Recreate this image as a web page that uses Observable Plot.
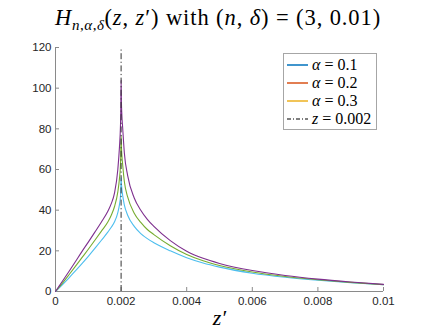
<!DOCTYPE html>
<html><head><meta charset="utf-8">
<script src="https://cdn.jsdelivr.net/npm/d3@7"></script>
<script src="https://cdn.jsdelivr.net/npm/@observablehq/plot@0.6"></script>
<style>
body{margin:0;background:#fff;}
#wrap{position:relative;width:423px;height:336px;overflow:hidden;background:#fff;}
#chart{position:absolute;left:0;top:0;}
#title{position:absolute;top:5px;left:218px;transform:translateX(-50%);white-space:nowrap;font-family:"Liberation Serif",serif;font-size:22.5px;letter-spacing:0.9px;color:#000;}
#title sub{font-size:15px;vertical-align:-5px;line-height:0;letter-spacing:0.5px}
#legend{position:absolute;left:283px;top:53px;width:94px;height:77px;border:1px solid #a6a6a6;background:#fff;box-sizing:border-box;font-family:"Liberation Serif",serif;font-size:16px;color:#000;}
.row{position:absolute;left:3px;height:18px;display:flex;align-items:center;white-space:nowrap;}
.row svg{margin-right:4px;}
</style>
</head><body>
<div id="wrap">
  <div id="chart"></div>
  <div id="title"><i>H</i><sub><i>n</i>,<i>α</i>,<i>δ</i></sub>(<i>z</i>, <i>z</i>′) with (<i>n</i>, <i>δ</i>) = (3, 0.01)</div>
  <div id="legend"></div>
</div>
<script>
// z' sample positions
const zPrime = [0, 0.0002, 0.0004, 0.0006, 0.0008, 0.001, 0.0012, 0.0014, 0.0016, 0.0017, 0.0018, 0.0019, 0.00195, 0.00198, 0.00199,
  0.002,
  0.00201, 0.00202, 0.00205, 0.0021, 0.0022, 0.0024, 0.0026, 0.0028, 0.003, 0.0035, 0.004, 0.0045, 0.005, 0.006, 0.007, 0.008, 0.009, 0.01];
// H values
const hAlpha01 = [0, 3.2, 6.5, 10, 13.6, 17.3, 21.2, 25.2, 29.3, 31.6, 34.3, 38.8, 42.7, 46.5, 49.5,
  56,
  53, 51, 47, 42.5, 37.5, 32, 28.5, 26, 24, 20, 16.6, 14, 12, 9, 7, 5.5, 4.3, 3.3];
const hAlpha02 = [0, 3.9, 8, 12.2, 16.5, 20.8, 25.2, 29.7, 34.3, 37.5, 41.8, 49, 55.5, 62, 67,
  76.7,
  71, 68, 62, 54, 46.5, 38.5, 34, 30.5, 28, 22.5, 18.2, 15.1, 12.8, 9.6, 7.4, 5.8, 4.5, 3.4];
const hAlpha03 = [0, 4.8, 9.6, 14.5, 19.5, 24.3, 29.2, 34.2, 39.6, 43.2, 48.5, 60, 71, 81, 88,
  104,
  93, 88, 80, 68, 57, 46, 40, 35.5, 32, 25, 19.8, 16.3, 13.8, 10.3, 7.9, 6.1, 4.7, 3.5];
const seriesNames = ["α = 0.1", "α = 0.2", "α = 0.3"];
const lineColors = ["#4DBEEE", "#77AC30", "#7E2F8E"];
const legendColors = ["#0072BD", "#D95319", "#EDB120"];
const zMark = [0.002];
const xTicks = [0, 0.002, 0.004, 0.006, 0.008, 0.01];
const xTickLabels = ["0", "0.002", "0.004", "0.006", "0.008", "0.01"];
const yTicks = [0, 20, 40, 60, 80, 100, 120];
const yTickLabels = ["0", "20", "40", "60", "80", "100", "120"];

const series = [hAlpha01, hAlpha02, hAlpha03];
const data = series.flatMap((vals, k) => zPrime.map((z, i) => ({z, H: vals[i], s: seriesNames[k]})));

const axisGray = "#8a8a8a";
const plot = Plot.plot({
  width: 423, height: 336,
  marginLeft: 55, marginRight: 40, marginTop: 47, marginBottom: 45,
  style: {fontFamily: "'Liberation Sans', Arial, sans-serif", fontSize: "11.5px", color: "#262626", background: "white", overflow: "visible"},
  x: {domain: [0, 0.01]},
  y: {domain: [0, 120]},
  color: {domain: seriesNames, range: lineColors},
  marks: [
    Plot.ruleY([0], {stroke: axisGray}),
    Plot.ruleX([0], {stroke: axisGray}),
    Plot.axisX({ticks: xTicks, tickFormat: d => xTickLabels[xTicks.indexOf(d)], tickSize: -4, tickPadding: 9, stroke: axisGray, label: null}),
    Plot.axisY({ticks: yTicks, tickFormat: d => yTickLabels[yTicks.indexOf(d)], tickSize: -4, tickPadding: 8, stroke: axisGray, label: null}),
    Plot.line(data, {x: "z", y: "H", z: "s", stroke: "s", strokeWidth: 1.1, curve: "monotone-x"}),
    Plot.ruleX(zMark, {y1: 0, y2: 120, stroke: "#333", strokeWidth: 1, strokeDasharray: "6,2.5,1.2,2.5"}),
    Plot.text(["z′"], {frameAnchor: "bottom", dy: 33, fontSize: 22, fontStyle: "italic", fontFamily: "'Liberation Serif', serif", fill: "#000"})
  ]
});
document.getElementById("chart").appendChild(plot);

// legend
const legend = document.getElementById("legend");
const rowTops = [2, 20, 38, 56];
const items = [
  {c: legendColors[0], dash: null, html: "<i>α</i> = 0.1"},
  {c: legendColors[1], dash: null, html: "<i>α</i> = 0.2"},
  {c: legendColors[2], dash: null, html: "<i>α</i> = 0.3"},
  {c: "#555", dash: "4,2,1,2", html: "<i>z</i> = 0.002"}
];
items.forEach((it, i) => {
  const row = document.createElement("div");
  row.className = "row";
  row.style.top = rowTops[i] + "px";
  row.innerHTML = `<svg width="21" height="4"><line x1="0" x2="21" y1="2" y2="2" stroke="${it.c}" stroke-width="1.5" ${it.dash ? `stroke-dasharray="${it.dash}"` : ""}/></svg><span>${it.html}</span>`;
  legend.appendChild(row);
});
</script>
</body></html>
